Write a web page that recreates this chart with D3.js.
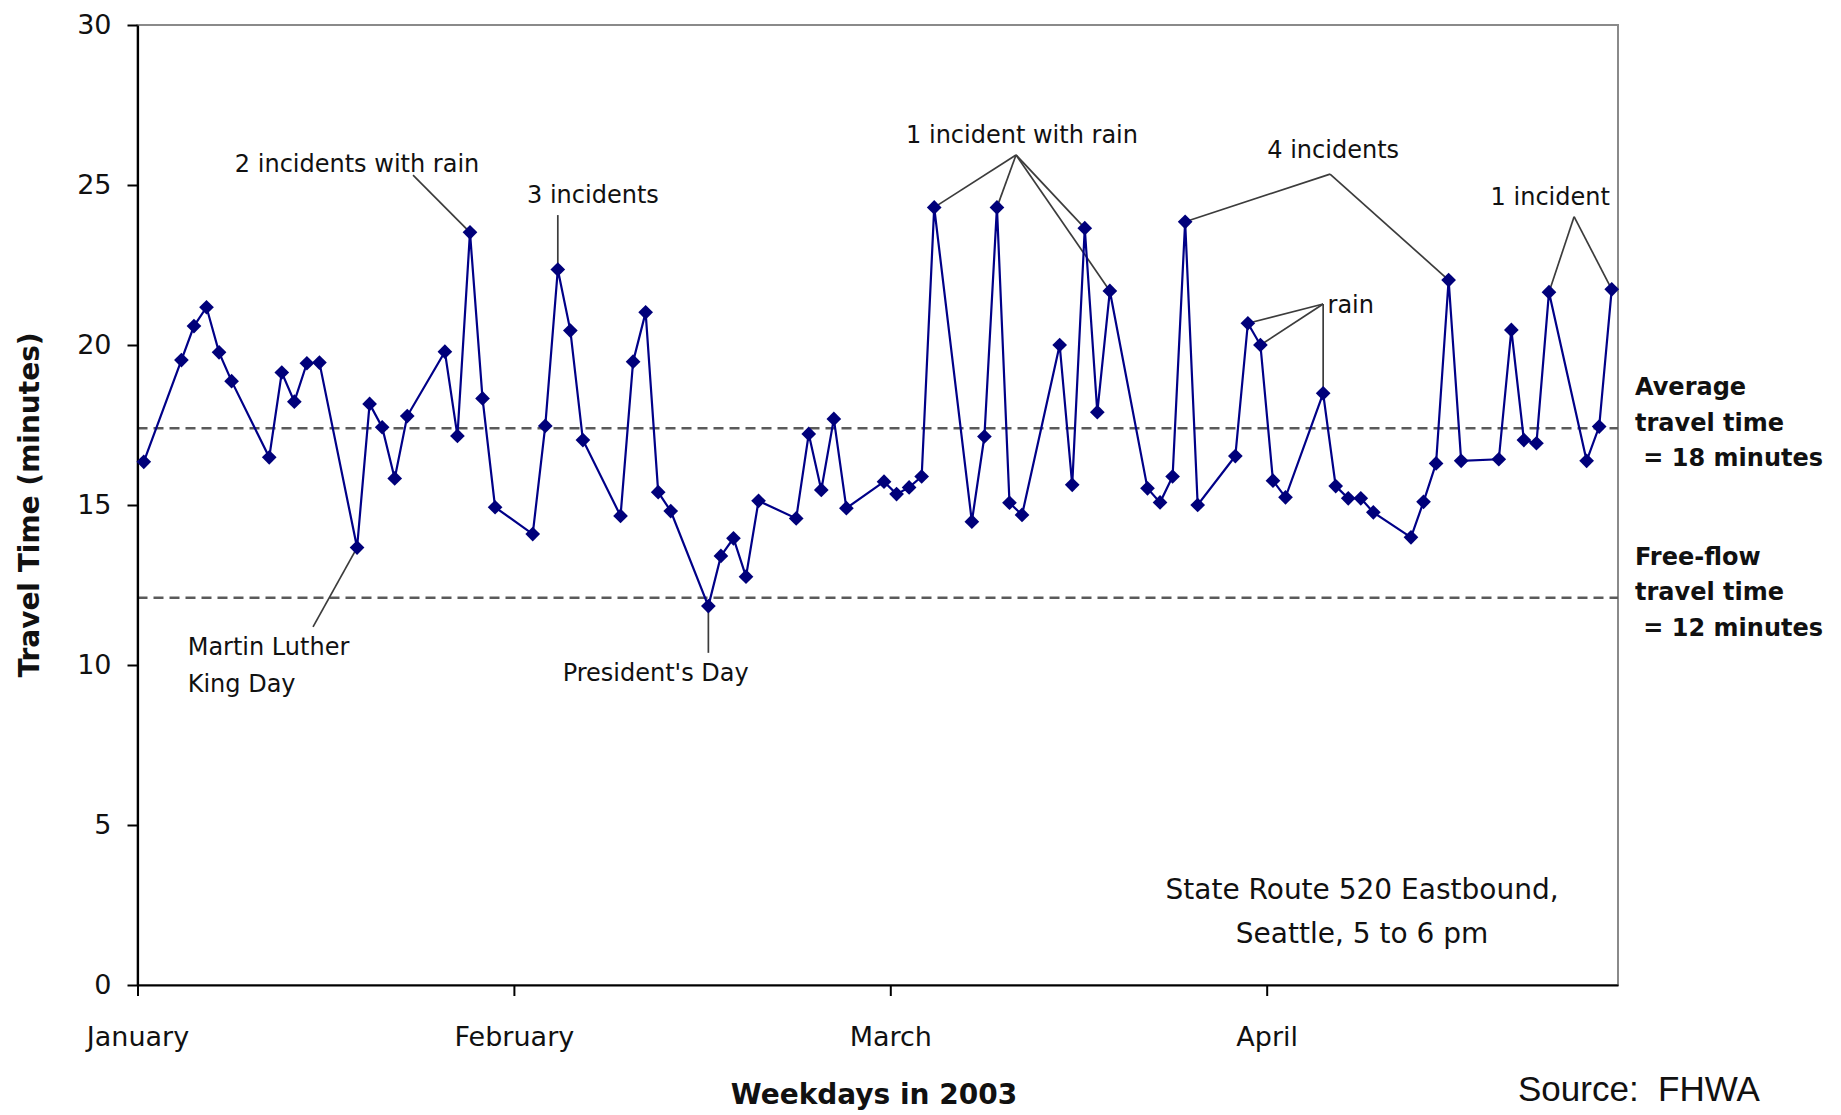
<!DOCTYPE html>
<html>
<head>
<meta charset="utf-8">
<script src="https://cdn.jsdelivr.net/npm/d3@7"></script>
<style>
body { margin: 0; background: #fff; }
text { font-family: "DejaVu Sans", sans-serif; fill: #111; }
</style>
</head>
<body>
<script>
// weekdays in 2003, SR 520 eastbound, 5-6 pm
let dates = [
  "2003-01-03","2003-01-06","2003-01-07","2003-01-08","2003-01-09","2003-01-10",
  "2003-01-13","2003-01-14","2003-01-15","2003-01-16","2003-01-17",
  "2003-01-20","2003-01-21","2003-01-22","2003-01-23","2003-01-24",
  "2003-01-27","2003-01-28","2003-01-29","2003-01-30","2003-01-31",
  "2003-02-03","2003-02-04","2003-02-05","2003-02-06","2003-02-07",
  "2003-02-10","2003-02-11","2003-02-12","2003-02-13","2003-02-14",
  "2003-02-17","2003-02-18","2003-02-19","2003-02-20","2003-02-21",
  "2003-02-24","2003-02-25","2003-02-26","2003-02-27","2003-02-28",
  "2003-03-03","2003-03-04","2003-03-05","2003-03-06","2003-03-07",
  "2003-03-10","2003-03-11","2003-03-12","2003-03-13","2003-03-14",
  "2003-03-17","2003-03-18","2003-03-19","2003-03-20","2003-03-21",
  "2003-03-24","2003-03-25","2003-03-26","2003-03-27","2003-03-28",
  "2003-03-31","2003-04-01","2003-04-02","2003-04-03","2003-04-04",
  "2003-04-07","2003-04-08","2003-04-09","2003-04-10","2003-04-11",
  "2003-04-14","2003-04-15","2003-04-16","2003-04-17","2003-04-18",
  "2003-04-21","2003-04-22","2003-04-23","2003-04-24","2003-04-25",
  "2003-04-28","2003-04-29","2003-04-30"
]

let travelTimes = [
  16.35, 19.53, 20.59, 21.18, 19.77, 18.87,
  16.49, 19.14, 18.23, 19.43, 19.45,
  13.67, 18.16, 17.43, 15.83, 17.78,
  19.79, 17.16, 23.52, 18.33, 14.93,
  14.09, 17.47, 22.36, 20.45, 17.03,
  14.66, 19.48, 21.02, 15.40, 14.81,
  11.84, 13.41, 13.96, 12.76, 15.13,
  14.58, 17.22, 15.47, 17.69, 14.90,
  15.73, 15.34, 15.55, 15.89, 24.30,
  14.48, 17.14, 24.30, 15.07, 14.69,
  20.00, 15.63, 23.65, 17.90, 21.69,
  15.52, 15.08, 15.89, 23.85, 15.00,
  16.53, 20.68, 20.00, 15.76, 15.24,
  18.49, 15.59, 15.21, 15.21, 14.77,
  13.99, 15.10, 16.30, 22.03, 16.38,
  16.43, 20.47, 17.03, 16.93, 21.65,
  16.38, 17.45, 21.74
]

let monthLabels = ["January", "February", "March", "April"]
let yTicks = [0, 5, 10, 15, 20, 25, 30]

let averageTime = 17.4
let freeFlowTime = 12.1
let averageLabel = ["Average", "travel time", " = 18 minutes"]
let freeFlowLabel = ["Free-flow", "travel time", " = 12 minutes"]

// callouts: label at (day of year, minutes), elbow where the leaders meet, target dates
let callouts = [
  { text: ["2 incidents with rain"], at: [20.0, 25.66], elbow: [24.46, 25.31], targets: ["2003-01-29"] },
  { text: ["3 incidents"], at: [38.8, 24.69], elbow: [36.0, 24.06], targets: ["2003-02-05"] },
  { text: ["1 incident with rain"], at: [73.0, 26.56], elbow: [72.52, 25.94],
    targets: ["2003-03-07", "2003-03-12", "2003-03-19", "2003-03-21"] },
  { text: ["4 incidents"], at: [97.8, 26.09], elbow: [97.55, 25.34], targets: ["2003-03-27", "2003-04-17"] },
  { text: ["1 incident"], at: [115.1, 24.63], elbow: [117.0, 24.01], targets: ["2003-04-25", "2003-04-30"] },
  { text: ["rain"], at: [97.35, 21.25], elbow: [97.0, 21.28], targets: ["2003-04-01", "2003-04-02", "2003-04-07"], anchor: "start" },
  { text: ["Martin Luther", "King Day"], at: [6.5, 10.56], elbow: [16.49, 11.19], targets: ["2003-01-20"], anchor: "start" },
  { text: ["President's Day"], at: [43.8, 9.75], elbow: [48.0, 10.38], targets: ["2003-02-17"] },
  { text: ["State Route 520 Eastbound,", "Seattle, 5 to 6 pm"], at: [100.1, 3.0], elbow: null, targets: [], big: true }
]

let width = 1841
let height = 1115
let plotLeft = 137.5, plotRight = 1618, plotTop = 25, plotBottom = 985

let parse = d3.utcParse("%Y-%m-%d")
let dayToDate = d => new Date(Date.UTC(2003, 0, 1) + (d - 1) * 864e5)

let values = dates.map((d, i) => ({ date: parse(d), key: d, value: travelTimes[i] }))
let byKey = new Map(values.map(v => [v.key, v]))

let start = new Date(Date.UTC(2003, 0, 2, 12))
let end = new Date(Date.UTC(2003, 3, 30, 12))

let xScale = d3.scaleUtc().domain([start, end]).range([plotLeft, plotRight])
let yScale = d3.scaleLinear().domain([0, 30]).range([plotBottom, plotTop])

let tickDates = monthLabels.map((m, i) => d3.utcDay.offset(start, i * 30))

let svg = d3.select('body').append('svg')
    .attr('width', width)
    .attr('height', height)

// frame (top/right grey)
svg.append('rect')
    .attr('x', plotLeft).attr('y', plotTop)
    .attr('width', plotRight - plotLeft).attr('height', plotBottom - plotTop)
    .attr('fill', 'none')
    .attr('stroke', '#8a8a8a')
    .attr('stroke-width', 2)

// reference lines
let refs = [averageTime, freeFlowTime]
svg.selectAll('line.ref')
    .data(refs)
    .enter()
    .append('line')
    .attr('class', 'ref')
    .attr('x1', plotLeft).attr('x2', plotRight)
    .attr('y1', d => yScale(d)).attr('y2', d => yScale(d))
    .attr('stroke', '#5a5a5a')
    .attr('stroke-width', 2.5)
    .attr('stroke-dasharray', '10,6')

// axes
let yAxis = d3.axisLeft(yScale).tickValues(yTicks).tickSize(10).tickSizeOuter(0).tickPadding(16)
let xAxis = d3.axisBottom(xScale).tickValues(tickDates)
    .tickFormat((d, i) => monthLabels[i]).tickSize(11).tickSizeOuter(0).tickPadding(31)

let gy = svg.append('g')
    .attr('transform', 'translate(' + plotLeft + ',0)')
    .call(yAxis)
let gx = svg.append('g')
    .attr('transform', 'translate(0,' + plotBottom + ')')
    .call(xAxis)

;[gx, gy].forEach(g => {
    g.select('.domain').attr('stroke', '#000').attr('stroke-width', 2.2)
    g.selectAll('.tick line').attr('stroke', '#000').attr('stroke-width', 2)
    g.selectAll('.tick text')
        .attr('font-family', '"DejaVu Sans", sans-serif')
        .attr('font-size', 27)
        .attr('fill', '#111')
})

// leader lines
callouts.forEach(c => {
    if (!c.elbow) return
    let ex = xScale(dayToDate(c.elbow[0]))
    let ey = yScale(c.elbow[1])
    c.targets.forEach(t => {
        let p = byKey.get(t)
        svg.append('line')
            .attr('x1', ex).attr('y1', ey)
            .attr('x2', xScale(p.date)).attr('y2', yScale(p.value))
            .attr('stroke', '#3c3c3c')
            .attr('stroke-width', 1.7)
    })
})

// series
let line = d3.line()
    .x(d => xScale(d.date))
    .y(d => yScale(d.value))

svg.append('path')
    .datum(values)
    .attr('d', line)
    .attr('fill', 'none')
    .attr('stroke', '#000088')
    .attr('stroke-width', 2.2)

let diamond = d3.symbol().type(d3.symbolSquare).size(108)
svg.selectAll('path.marker')
    .data(values)
    .enter()
    .append('path')
    .attr('class', 'marker')
    .attr('d', diamond)
    .attr('transform', d => 'translate(' + xScale(d.date) + ',' + yScale(d.value) + ') rotate(45)')
    .attr('fill', '#00007a')

// callout labels
callouts.forEach(c => {
    let tx = xScale(dayToDate(c.at[0]))
    let ty = yScale(c.at[1])
    let size = c.big ? 28 : 24
    let lh = c.big ? 44 : 37
    c.text.forEach((s, i) => {
        svg.append('text')
            .attr('x', tx)
            .attr('y', ty + i * lh)
            .attr('text-anchor', c.anchor || 'middle')
            .attr('dominant-baseline', 'central')
            .attr('font-size', size)
            .text(s)
    })
})

// right side labels
let sideLabel = (lines, v) => {
    let base = yScale(v) - 41
    lines.forEach((s, i) => {
        svg.append('text')
            .attr('x', 1635)
            .attr('y', base + i * 35.5)
            .attr('dominant-baseline', 'central')
            .attr('font-size', 24)
            .attr('font-weight', 'bold')
            .style('white-space', 'pre')
            .text(s)
    })
}
sideLabel(averageLabel, averageTime)
sideLabel(freeFlowLabel, freeFlowTime)

// axis titles
svg.append('text')
    .attr('transform', 'translate(29,505) rotate(-90)')
    .attr('text-anchor', 'middle')
    .attr('dominant-baseline', 'central')
    .attr('font-size', 28)
    .attr('font-weight', 'bold')
    .text('Travel Time (minutes)')

svg.append('text')
    .attr('x', 874)
    .attr('y', 1094)
    .attr('text-anchor', 'middle')
    .attr('dominant-baseline', 'central')
    .attr('font-size', 28)
    .attr('font-weight', 'bold')
    .text('Weekdays in 2003')

svg.append('text')
    .attr('x', 1518)
    .attr('y', 1101)
    .style('font-family', '"Liberation Sans", Arial, sans-serif')
    .style('white-space', 'pre')
    .attr('font-size', 35)
    .text('Source:  FHWA')
</script>
</body>
</html>
